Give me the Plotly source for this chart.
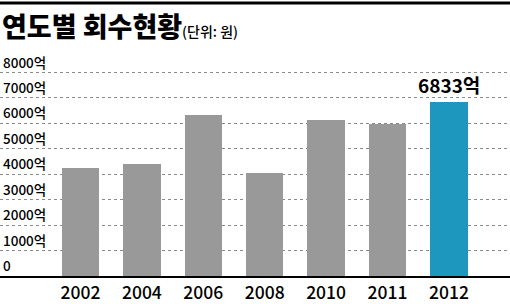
import plotly.graph_objects as go

years = ["2002", "2004", "2006", "2008", "2010", "2011", "2012"]
values = [4260, 4410, 6330, 4060, 6130, 5980, 6833]
bar_colors = ["#999999"] * 6 + ["#1e97bf"]
y_ticks = [0, 1000, 2000, 3000, 4000, 5000, 6000, 7000, 8000]
y_tick_labels = ["0", "1000억", "2000억", "3000억", "4000억", "5000억", "6000억", "7000억", "8000억"]
highlight_label = "6833억"

W, H = 510, 304
T, B = 60, 20
plot_h = H - T - B
FONT = "Noto Sans CJK KR"

idx = list(range(len(years)))
fig = go.Figure()
fig.add_trace(go.Bar(x=idx, y=values, marker=dict(color=bar_colors, line=dict(width=0)),
                     width=0.61, hoverinfo="skip"))

annotations = []
for v, lab in zip(y_ticks, y_tick_labels):
    annotations.append(dict(x=0, xref="paper", y=v, yref="y", text=lab, showarrow=False,
                            xanchor="left", yanchor="bottom", xshift=1, yshift=-1,
                            font=dict(family=FONT, size=13.5, color="#000000", weight=500)))
annotations.append(dict(x=6, xref="x", y=values[6], yref="y", text=highlight_label,
                        showarrow=False, xanchor="center", yanchor="bottom", yshift=2,
                        font=dict(family=FONT, size=19, color="#000000", weight=700)))
annotations.append(dict(x=0, xref="paper", y=1 + (T - 24) / plot_h, yref="paper",
                        text="연도별 회수현황<span style='font-size:14px;font-weight:500'>(단위: 원)</span>",
                        showarrow=False, xanchor="left", yanchor="middle", xshift=0,
                        font=dict(family=FONT, size=27, color="#000000", weight=900)))

fig.update_layout(
    width=W, height=H,
    margin=dict(l=0, r=0, t=T, b=B),
    paper_bgcolor="white", plot_bgcolor="white",
    showlegend=False,
    bargap=0,
    annotations=annotations,
    xaxis=dict(range=[-1.311, 6.995], tickvals=idx, ticktext=years, showgrid=False,
               showline=True, linecolor="black", linewidth=1.5, ticks="",
               tickfont=dict(family=FONT, size=17.5, color="#000000", weight=500), zeroline=False,
               fixedrange=True),
    yaxis=dict(range=[0, plot_h / 26.375 * 1000], tickvals=y_ticks, showticklabels=False,
               showgrid=True, gridcolor="#8a8a8a", griddash="dot", gridwidth=1,
               zeroline=False, fixedrange=True),
    shapes=[dict(type="line", xref="paper", yref="paper", x0=0, x1=1,
                 y0=1 + (T - 1) / plot_h, y1=1 + (T - 1) / plot_h,
                 line=dict(color="black", width=3))],
)

fig.write_html("out.html")
